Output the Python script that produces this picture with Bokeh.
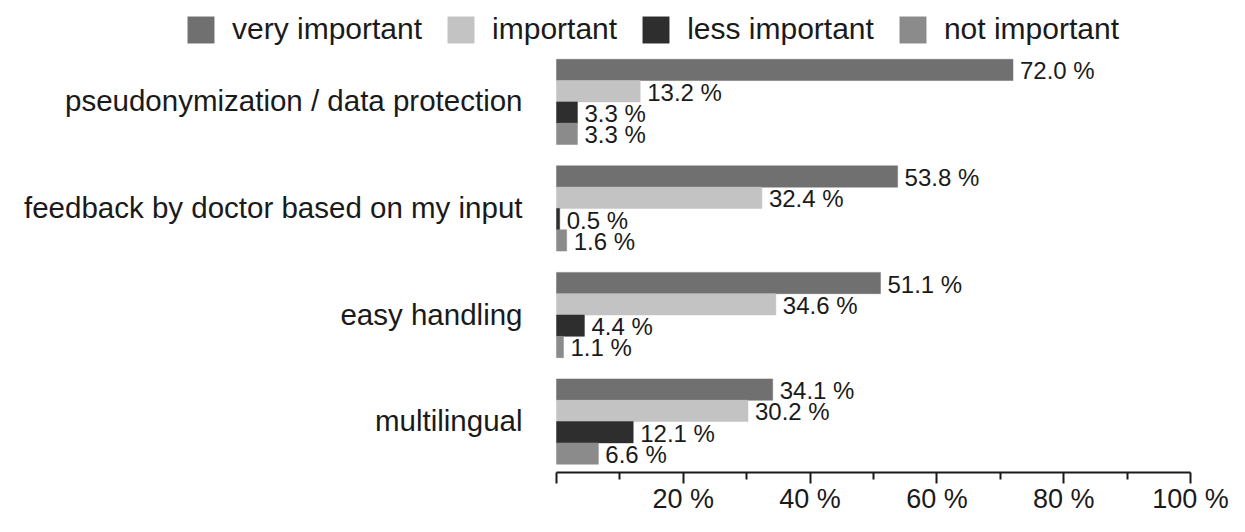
from bokeh.plotting import figure
from bokeh.models import Range1d, FixedTicker, Legend, LegendItem, ColumnDataSource
from bokeh.core.properties import value
from bokeh.embed import file_html
from bokeh.resources import INLINE

categories = ["pseudonymization / data protection",
              "feedback by doctor based on my input",
              "easy handling",
              "multilingual"]
series = ["very important", "important", "less important", "not important"]
very_important = [72.0, 53.8, 51.1, 34.1]
important = [13.2, 32.4, 34.6, 30.2]
less_important = [3.3, 0.5, 4.4, 12.1]
not_important = [3.3, 1.6, 1.1, 6.6]
colors = ["#707070", "#c3c3c3", "#2e2e2e", "#8b8b8b"]
x_ticks = [0, 20, 40, 60, 80, 100]
x_minor = [10, 30, 50, 70, 90]
x_tick_labels = ["", "20 %", "40 %", "60 %", "80 %", "100 %"]

FONT = "Liberation Sans"
GROUP_PITCH = 5

p = figure(width=1229, height=516, output_backend="svg", toolbar_location=None,
           x_range=Range1d(-87.7, 100), y_range=Range1d(-19.39, 2.757),
           min_border_left=0, min_border_right=39, min_border_top=0,
           min_border_bottom=42)
p.outline_line_color = None
p.xgrid.visible = False
p.ygrid.visible = False
p.yaxis.visible = False
p.background_fill_color = "white"

all_values = [very_important, important, less_important, not_important]
items = []
for k, (name, vals, col) in enumerate(zip(series, all_values, colors)):
    ys = [-(g * GROUP_PITCH + k + 0.5) for g in range(len(categories))]
    src = ColumnDataSource(dict(y=ys, right=vals,
                                lab=["%.1f %%" % v for v in vals]))
    r = p.hbar(y="y", left=0, right="right", height=1.0, source=src,
               fill_color=col, line_color=col, line_width=0.5)
    p.text(x="right", y="y", text="lab", source=src, x_offset=7, y_offset=1,
           text_font=value(FONT), text_font_size="24px",
           text_baseline="middle", text_align="left", text_color="#1a1a1a")
    items.append(LegendItem(label=name, renderers=[r]))

# category labels
group_centers = [-(g * GROUP_PITCH + 2) for g in range(len(categories))]
cat_src = ColumnDataSource(dict(y=group_centers, x=[0] * len(categories),
                                t=categories))
p.text(x="x", y="y", text="t", source=cat_src, x_offset=-34, y_offset=-1,
       text_font=value(FONT), text_font_size="29.5px",
       text_baseline="middle", text_align="right", text_color="#1a1a1a")

legend = Legend(items=items, orientation="horizontal", location=(184, 426),
                label_text_font=FONT, label_text_font_size="30px",
                label_text_color="#1a1a1a", glyph_width=33, glyph_height=33,
                label_standoff=15, spacing=22, padding=0, margin=0,
                border_line_color=None, background_fill_alpha=0)
p.add_layout(legend, "center")

# x axis
p.xaxis.bounds = (0, 100)
p.xaxis.ticker = FixedTicker(ticks=x_ticks, minor_ticks=x_minor)
p.xaxis.major_label_overrides = {t: l for t, l in zip(x_ticks, x_tick_labels)}
p.xaxis.axis_line_color = "#1a1a1a"
p.xaxis.axis_line_width = 2
p.xaxis.major_tick_line_color = "#1a1a1a"
p.xaxis.major_tick_line_width = 2
p.xaxis.minor_tick_line_color = "#1a1a1a"
p.xaxis.minor_tick_line_width = 2
p.xaxis.major_tick_in = 0
p.xaxis.major_tick_out = 11
p.xaxis.minor_tick_in = 0
p.xaxis.minor_tick_out = 7
p.xaxis.major_label_standoff = 0
p.xaxis.major_label_text_font = FONT
p.xaxis.major_label_text_font_size = "27px"
p.xaxis.major_label_text_color = "#1a1a1a"

open("out.html", "w").write(file_html(p, INLINE))
